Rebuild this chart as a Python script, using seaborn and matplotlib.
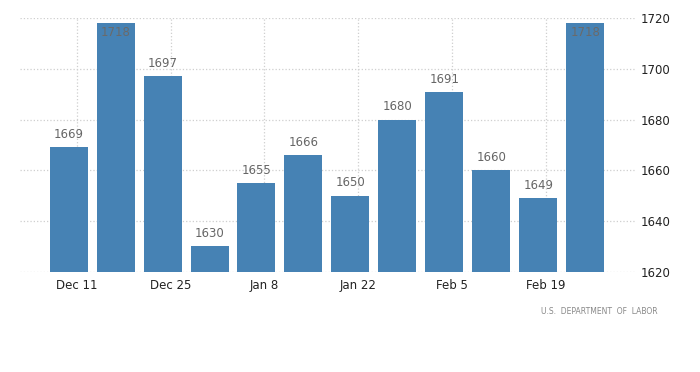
import matplotlib
matplotlib.use("Agg")
import matplotlib.pyplot as plt
import seaborn as sns
import pandas as pd

# weekly values
weeks = ["Dec 11", "Dec 18", "Dec 25", "Jan 1", "Jan 8", "Jan 15",
         "Jan 22", "Jan 29", "Feb 5", "Feb 12", "Feb 19", "Feb 26"]
values = [1669, 1718, 1697, 1630, 1655, 1666, 1650, 1680, 1691, 1660, 1649, 1718]
tick_labels = ["Dec 11", "Dec 25", "Jan 8", "Jan 22", "Feb 5", "Feb 19"]
y_ticks = [1620, 1640, 1660, 1680, 1700, 1720]

df = pd.DataFrame({"week": weeks, "value": values})

sns.set_style("white")
fig = plt.figure(figsize=(7, 3.72), dpi=100)
ax = fig.add_axes([0.029, 0.27, 0.878, 0.681])

sns.barplot(data=df, x="week", y="value", color="#4682b4", saturation=1,
            width=0.81, linewidth=0, ax=ax, zorder=3)

ax.set_ylim(1620, 1720)
ax.set_xlim(-1.03, 12.06)

# date ticks sit a little right of the bar centre
tick_pos = [weeks.index(t) + 0.17 for t in tick_labels]
ax.set_xticks(tick_pos)
ax.set_xticklabels(tick_labels, fontsize=8.5, color="#222222")
ax.set_yticks(y_ticks)
ax.set_yticklabels([str(v) for v in y_ticks], fontsize=8.5, color="#222222")
ax.yaxis.tick_right()
ax.tick_params(axis="y", length=0, pad=4)
ax.tick_params(axis="x", length=3, color="#cccccc", pad=2)
ax.set_xlabel("")
ax.set_ylabel("")

ax.grid(True, linestyle=":", color="#cfcfcf", linewidth=0.9, zorder=0)
for s in ax.spines.values():
    s.set_visible(False)

# value labels
for i, v in enumerate(values):
    if v > 1712:
        ax.text(i, v - 3.5, str(v), ha="center", va="center",
                fontsize=8.5, color="#6a6a6a", zorder=4)
    else:
        ax.text(i, v + 5, str(v), ha="center", va="center",
                fontsize=8.5, color="#666666", zorder=4)

fig.text(0.94, 0.163, "U.S.  DEPARTMENT  OF  LABOR", ha="right", va="center",
         fontsize=5.5, color="#888888")

fig.savefig("out.png", dpi=100)
